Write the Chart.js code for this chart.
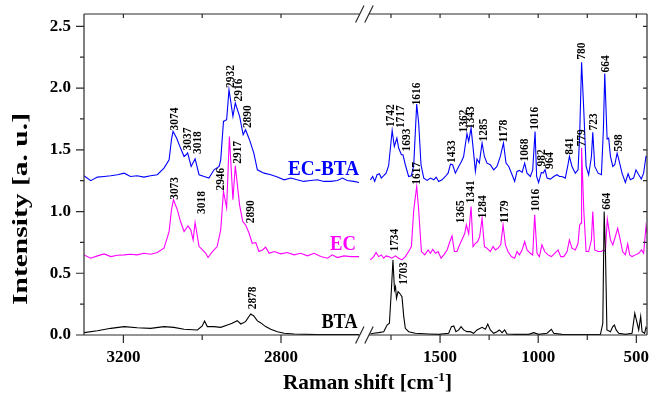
<!DOCTYPE html>
<html><head><meta charset="utf-8">
<script src="https://cdn.jsdelivr.net/npm/chart.js@4.4.1/dist/chart.umd.min.js"></script>
<style>html,body{margin:0;padding:0;background:#fff}canvas{display:block}</style>
</head><body><canvas id="c" width="651" height="394"></canvas>
<script>
// ---------------- data (Raman shift in cm-1, intensity in a.u.) ----------------
const ecbtaShift = [3300,3283,3266,3249,3232,3215,3198,3182,3165,3148,3131,3114,3097,3084,3078,3074,3065,3055,3046,3041,3037,3028,3018,3008,2995,2983,2970,2957,2953,2946,2938,2932,2922,2916,2905,2896,2890,2880,2869,2860,2843,2826,2809,2792,2775,2759,2742,2725,2708,2691,2674,2657,2644,2632,2615,2602,
1855,1843,1833,1821,1809,1799,1787,1775,1762,1744,1733,1720,1711,1697,1689,1677,1660,1646,1634,1619,1609,1597,1583,1566,1549,1532,1520,1507,1490,1473,1459,1447,1436,1422,1405,1391,1380,1363,1354,1342,1329,1320,1312,1300,1286,1274,1261,1244,1227,1210,1193,1177,1164,1150,1133,1120,1108,1096,1082,1069,1057,1040,1028,1016,1008,998,984,975,965,955,938,921,904,892,879,862,850,841,828,811,797,789,779,768,756,743,729,722,712,695,678,668,661,649,641,632,620,610,598,590,573,556,542,531,514,502,488,475,463,451,446];
const ecbtaIntensity = [1.290,1.250,1.279,1.284,1.290,1.298,1.311,1.284,1.290,1.279,1.290,1.298,1.352,1.419,1.582,1.649,1.595,1.514,1.446,1.460,1.475,1.365,1.427,1.298,1.284,1.271,1.338,1.365,1.419,1.730,1.744,1.987,1.771,1.879,1.771,1.622,1.663,1.582,1.473,1.338,1.311,1.298,1.279,1.257,1.271,1.257,1.244,1.252,1.257,1.244,1.244,1.252,1.271,1.252,1.244,1.235,
1.257,1.284,1.244,1.298,1.306,1.271,1.290,1.311,1.371,1.657,1.527,1.595,1.514,1.460,1.460,1.379,1.284,1.290,1.379,1.871,1.717,1.379,1.271,1.252,1.271,1.257,1.279,1.244,1.257,1.284,1.311,1.384,1.379,1.311,1.365,1.406,1.446,1.630,1.568,1.676,1.473,1.325,1.425,1.392,1.555,1.446,1.392,1.379,1.338,1.365,1.446,1.555,1.392,1.365,1.298,1.244,1.325,1.333,1.317,1.392,1.311,1.284,1.338,1.649,1.284,1.235,1.317,1.311,1.338,1.271,1.263,1.284,1.298,1.284,1.284,1.271,1.365,1.446,1.365,1.311,1.338,1.609,2.209,1.825,1.365,1.298,1.446,1.641,1.365,1.311,1.298,1.663,2.117,1.587,1.595,1.446,1.365,1.379,1.473,1.425,1.311,1.235,1.306,1.257,1.271,1.338,1.298,1.263,1.311,1.446,1.440];

const ecShift = [3300,3283,3266,3249,3232,3215,3198,3182,3165,3148,3131,3114,3097,3084,3078,3073,3063,3055,3046,3036,3029,3023,3018,3008,2999,2991,2985,2974,2962,2953,2946,2938,2931,2922,2916,2905,2897,2890,2881,2873,2864,2856,2847,2839,2830,2817,2801,2784,2767,2750,2733,2716,2699,2682,2670,2657,2640,2623,2602,
1855,1838,1826,1813,1799,1787,1775,1762,1745,1728,1711,1694,1677,1660,1646,1634,1619,1609,1595,1578,1561,1549,1537,1524,1510,1495,1481,1464,1453,1439,1427,1414,1397,1385,1374,1366,1354,1342,1332,1320,1308,1298,1286,1274,1261,1244,1230,1218,1205,1191,1179,1167,1154,1137,1120,1108,1096,1082,1069,1057,1040,1028,1018,1006,994,981,967,950,933,916,899,885,870,853,841,828,811,797,789,782,779,768,756,743,729,722,712,695,678,668,658,648,632,620,607,595,582,570,556,544,534,522,505,488,474,463,451,446];
const ecIntensity = [0.649,0.622,0.641,0.657,0.635,0.646,0.649,0.654,0.649,0.662,0.654,0.668,0.703,0.838,1.014,1.095,1.014,0.919,0.838,0.884,0.852,0.770,0.911,0.716,0.689,0.662,0.627,0.676,0.716,0.852,1.162,1.030,1.608,1.095,1.370,1.050,0.919,0.892,0.824,0.743,0.749,0.676,0.689,0.711,0.662,0.676,0.657,0.668,0.649,0.662,0.641,0.662,0.635,0.622,0.649,0.627,0.641,0.635,0.635,
0.608,0.635,0.668,0.635,0.649,0.622,0.641,0.635,0.622,0.641,0.622,0.608,0.635,0.676,0.716,1.014,1.203,1.014,0.676,0.649,0.689,0.662,0.695,0.662,0.676,0.622,0.649,0.689,0.743,0.803,0.676,0.676,0.743,0.784,0.824,0.892,0.819,1.041,0.716,0.743,0.757,0.798,0.946,0.716,0.703,0.676,0.716,0.689,0.703,0.730,0.892,0.730,0.676,0.635,0.622,0.676,0.649,0.689,0.757,0.689,0.662,0.649,0.973,0.662,0.635,0.730,0.676,0.649,0.635,0.662,0.689,0.635,0.635,0.676,0.770,0.703,0.689,0.743,0.892,0.906,1.514,1.014,0.676,0.676,0.770,1.000,0.689,0.676,0.676,0.689,0.676,0.938,0.770,0.730,0.798,0.865,0.770,0.676,0.649,0.738,0.649,0.635,0.649,0.662,0.689,0.662,0.879,0.824];

const btaShift = [3300,3266,3232,3198,3165,3131,3097,3072,3046,3012,3000,2994,2987,2970,2953,2936,2924,2911,2902,2890,2877,2869,2860,2852,2839,2826,2809,2792,2767,2708,2602,
1855,1838,1813,1787,1770,1758,1748,1740,1732,1727,1722,1714,1706,1694,1685,1677,1660,1626,1558,1507,1456,1442,1430,1419,1405,1393,1380,1363,1346,1329,1312,1286,1269,1257,1244,1227,1210,1198,1184,1171,1159,1116,1048,1023,998,955,933,921,879,743,683,671,664,657,650,632,620,612,603,590,556,522,508,500,488,478,471,458,451,446];
const btaIntensity = [0.019,0.035,0.054,0.068,0.059,0.054,0.068,0.062,0.046,0.041,0.073,0.114,0.068,0.068,0.062,0.081,0.095,0.116,0.089,0.108,0.170,0.154,0.114,0.100,0.068,0.046,0.027,0.014,0.008,0.003,0.003,
0.008,0.014,0.019,0.027,0.081,0.095,0.365,0.608,0.365,0.392,0.297,0.351,0.338,0.311,0.149,0.054,0.027,0.014,0.008,0.005,0.014,0.068,0.073,0.027,0.041,0.068,0.041,0.027,0.027,0.014,0.041,0.062,0.046,0.089,0.041,0.014,0.027,0.041,0.019,0.041,0.008,0.005,0.005,0.019,0.005,0.014,0.046,0.014,0.005,0.003,0.005,0.095,1.000,0.635,0.041,0.027,0.068,0.081,0.041,0.014,0.005,0.014,0.176,0.122,0.041,0.150,0.027,0.014,0.062,0.050];

// peak annotations: [label, Raman shift of label, intensity at foot of label]
const ecbtaPeaks = [['3074',3070,1.657],['3037',3036,1.495],['3018',3011,1.466],['2932',2928,2.001],['2916',2907,1.892],['2890',2883,1.676],
  ['1742',1748,1.684],['1717',1702,1.676],['1693',1668,1.487],['1616',1617,1.860],['1433',1442,1.393],['1362',1379,1.641],['1343',1341,1.668],
  ['1285',1277,1.568],['1178',1176,1.560],['1068',1069,1.406],['1016',1015,1.663],['982',980,1.365],['964',938,1.344],['841',841,1.460],
  ['780',777,2.230],['723',717,1.657],['664',653,2.127],['598',587,1.487]];
const ecPeaks = [['3073',3069,1.095],['3018',3000,0.981],['2946',2953,1.170],['2917',2909,1.387],['2890',2877,0.906],['1617',1617,1.217],
  ['1365',1392,0.906],['1341',1341,1.068],['1284',1282,0.946],['1179',1170,0.906],['1016',1011,1.000],['779',777,1.527]];
const btaPeaks = [['2878',2871,0.208],['1734',1731,0.676],['1703',1685,0.406],['664',649,1.014]];

const seriesNames = ['EC-BTA','EC','BTA'];
const xMajorTicks = [3200,2800,1500,1000,500];
const xMinorTicks = [3000,1750,1250,750];
const yMajorTicks = [0,0.5,1.0,1.5,2.0,2.5];
const yMinorTicks = [0.25,0.75,1.25,1.75,2.25];
const highRange = [3300,2600];   // left panel of the broken axis
const lowRange = [1862,444];     // right panel of the broken axis

// ---------------- broken axis transform ----------------
const KH = 0.394, KL = 0.1963, GAP = 9.2;
function u(w){
  if (w >= 2000) return (highRange[0]-w)*KH;
  return (highRange[0]-highRange[1])*KH + GAP + (lowRange[0]-w)*KL;
}
function build(shift, inten){
  const out = [];
  for (let i=0;i<shift.length;i++){
    if (i>0 && shift[i-1]>=2000 && shift[i]<2000) out.push({x:(u(highRange[1])+u(lowRange[0]))/2, y:null});
    out.push({x:u(shift[i]), y:inten[i]});
  }
  return out;
}

const FONT = "'Liberation Serif','Times New Roman',Times,serif";
const BLUE='#0000ff', MAG='#ff00ff', BLK='#000000';

function scaledText(ctx, text, x, y, targetW, align){
  const w = ctx.measureText(text).width;
  const s = targetW / w;
  ctx.save();
  ctx.translate(x, y);
  ctx.scale(s, 1);
  ctx.textAlign = align;
  ctx.fillText(text, 0, 0);
  ctx.restore();
}

const decor = {
  id:'decor',
  afterDraw(chart){
    const {ctx, chartArea:a, scales} = chart;
    const xs = scales.x, ys = scales.y;
    const L=a.left, R=a.right, T=a.top, B=a.bottom;
    const xb1 = xs.getPixelForValue(u(highRange[1]));
    const xb2 = xs.getPixelForValue(u(lowRange[0]));
    ctx.save();
    ctx.strokeStyle = '#2a2a2a';
    ctx.lineWidth = 1.2;
    ctx.beginPath();
    ctx.moveTo(L, T); ctx.lineTo(L, B);
    ctx.moveTo(R, T); ctx.lineTo(R, B);
    ctx.moveTo(L, T); ctx.lineTo(xb1, T);
    ctx.moveTo(xb2, T); ctx.lineTo(R, T);
    ctx.moveTo(L, B); ctx.lineTo(xb1, B);
    ctx.moveTo(xb2, B); ctx.lineTo(R, B);
    // break marks
    [T, B].forEach(yy => {
      [xb1, xb2].forEach(xx => { ctx.moveTo(xx-4.2, yy+8.5); ctx.lineTo(xx+4.2, yy-8.5); });
    });
    // y ticks
    yMajorTicks.forEach(v => { const p = ys.getPixelForValue(v); ctx.moveTo(L-8, p); ctx.lineTo(L, p); ctx.moveTo(R-4, p); ctx.lineTo(R, p); });
    yMinorTicks.forEach(v => { const p = ys.getPixelForValue(v); ctx.moveTo(L-4, p); ctx.lineTo(L, p); ctx.moveTo(R-4, p); ctx.lineTo(R, p); });
    // x ticks
    xMajorTicks.forEach(w => { const p = xs.getPixelForValue(u(w)); ctx.moveTo(p, B); ctx.lineTo(p, B+8); ctx.moveTo(p, T); ctx.lineTo(p, T+4); });
    xMinorTicks.forEach(w => { const p = xs.getPixelForValue(u(w)); ctx.moveTo(p, B); ctx.lineTo(p, B+5); ctx.moveTo(p, T); ctx.lineTo(p, T+4); });
    ctx.stroke();
    ctx.restore();

    // peak labels
    ctx.save();
    ctx.fillStyle = '#000';
    ctx.font = 'bold 12px ' + FONT;
    ctx.textAlign = 'left';
    ctx.textBaseline = 'middle';
    [ecbtaPeaks, ecPeaks, btaPeaks].forEach(list => list.forEach(([t, w, v]) => {
      const px = xs.getPixelForValue(u(w)), py = ys.getPixelForValue(v);
      ctx.save(); ctx.translate(px, py); ctx.rotate(-Math.PI/2); scaledText(ctx, t, 0, 0, t.length*5.7, 'left'); ctx.restore();
    }));
    ctx.restore();

    // series names
    ctx.save();
    ctx.font = 'bold 21px ' + FONT;
    ctx.textBaseline = 'alphabetic';
    ctx.fillStyle = BLUE; scaledText(ctx, seriesNames[0], 359, 175, 71, 'right');
    ctx.fillStyle = MAG;  scaledText(ctx, seriesNames[1], 356, 250, 26, 'right');
    ctx.fillStyle = BLK;  scaledText(ctx, seriesNames[2], 357.5, 328, 36, 'right');
    ctx.restore();

    // axis titles
    ctx.save();
    ctx.fillStyle = '#000';
    ctx.textBaseline = 'alphabetic';
    ctx.font = 'bold 21px ' + FONT;
    ctx.save();
    ctx.translate(27, 209);
    ctx.rotate(-Math.PI/2);
    scaledText(ctx, 'Intensity [a. u.]', 0, 0, 192, 'center');
    ctx.restore();
    // x title with superscript
    const main = 'Raman shift [cm', sup = '-1', end = ']';
    ctx.font = 'bold 21px ' + FONT; const w1 = ctx.measureText(main).width, w3 = ctx.measureText(end).width;
    ctx.font = 'bold 13px ' + FONT; const w2 = ctx.measureText(sup).width;
    const total = w1 + w2 + w3, s = 169/total;
    ctx.translate(283, 389); ctx.scale(s, 1);
    ctx.textAlign = 'left';
    ctx.font = 'bold 21px ' + FONT; ctx.fillText(main, 0, 0);
    ctx.font = 'bold 13px ' + FONT; ctx.fillText(sup, w1, -8);
    ctx.font = 'bold 21px ' + FONT; ctx.fillText(end, w1 + w2, 0);
    ctx.restore();
  }
};

new Chart(document.getElementById('c'), {
  type: 'line',
  data: {
    datasets: [
      {label: seriesNames[2], data: build(btaShift, btaIntensity), borderColor: BLK, order: 0},
      {label: seriesNames[1], data: build(ecShift, ecIntensity), borderColor: MAG, order: 1},
      {label: seriesNames[0], data: build(ecbtaShift, ecbtaIntensity), borderColor: BLUE, order: 2}
    ]
  },
  options: {
    responsive: false,
    animation: false,
    devicePixelRatio: 1,
    parsing: false,
    spanGaps: false,
    layout: {padding: {top: 14, right: 4, left: 0, bottom: 0}},
    elements: {point: {radius: 0}, line: {borderWidth: 1.1, tension: 0}},
    plugins: {legend: {display: false}, tooltip: {enabled: false}},
    scales: {
      x: {
        type: 'linear', min: 0, max: 563,
        grid: {display: false, drawTicks: false},
        border: {display: false},
        afterFit: s => { s.height = 59; s.paddingLeft = 0; s.paddingRight = 0; },
        afterBuildTicks: s => { s.ticks = xMajorTicks.map(w => ({value: u(w)})); },
        ticks: {
          autoSkip: false, maxRotation: 0, padding: 12, color: '#000',
          font: {family: FONT, size: 17, weight: 'bold'},
          callback: (val, i) => String(xMajorTicks[i])
        }
      },
      y: {
        type: 'linear', min: 0, max: 2.6,
        grid: {display: false, drawTicks: false},
        border: {display: false},
        afterFit: s => { s.width = 84; s.paddingTop = 0; s.paddingBottom = 0; },
        afterBuildTicks: s => { s.ticks = yMajorTicks.map(v => ({value: v})); },
        ticks: {
          padding: 13, color: '#000',
          font: {family: FONT, size: 17, weight: 'bold'},
          callback: v => Number(v).toFixed(1)
        }
      }
    }
  },
  plugins: [decor]
});
</script>
</body></html>
